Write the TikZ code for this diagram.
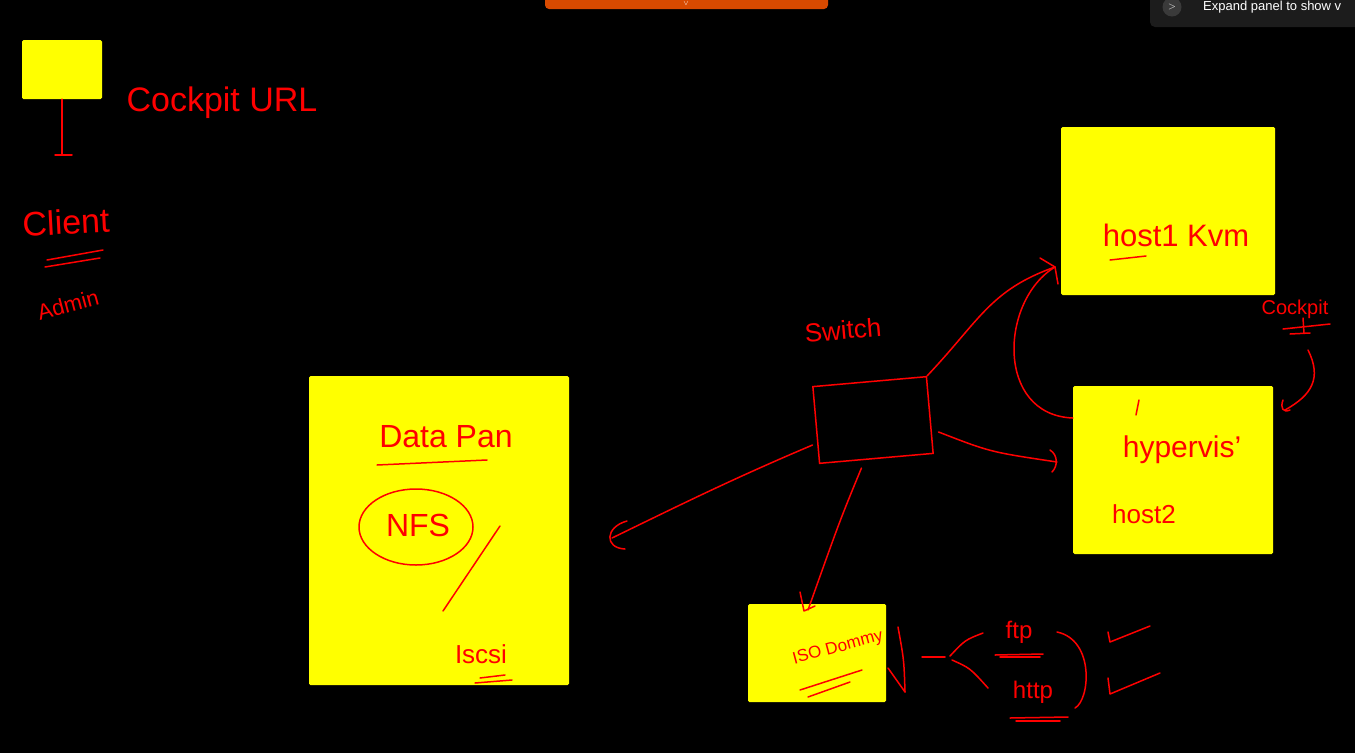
\documentclass[tikz,border=0pt]{standalone}
\usepackage{fontspec}
\setmainfont{Liberation Sans}
\usetikzlibrary{arrows.meta,calc,shapes.geometric}
\definecolor{ink}{HTML}{FF0000}
\definecolor{note}{HTML}{FFFF00}
\definecolor{topbar}{HTML}{D84A00}
\definecolor{panel}{HTML}{1C1C1C}
\definecolor{btn}{HTML}{3A3A3A}
\tikzset{
  ybox/.style={fill=note, draw=none, rounded corners=1.5pt, inner sep=0pt},
  pen/.style={draw=ink, line width=1.5pt, line cap=round, line join=round},
  hand/.style={text=ink, inner sep=0pt, font=\fontsize{#1}{#1}\selectfont},
  hand/.default=26,
}
\begin{document}
\begin{tikzpicture}[x=1pt,y=-1pt]
\useasboundingbox (0,0) rectangle (1355,753);
\fill[black] (0,0) rectangle (1355,753);
% top UI
\fill[topbar, rounded corners=4pt] (545,-10) rectangle (828,9);
\node[text=white, font=\fontsize{7}{7}\selectfont, inner sep=0pt] (chev) at (686,4) {$\vee$};
\fill[panel, rounded corners=5pt] (1150,-10) rectangle (1365,27);
\node[circle, fill=btn, minimum size=19pt, inner sep=0pt, text=white, font=\fontsize{10}{10}\selectfont] (expbtn) at (1172,7) {$>$};
\begin{scope}
\clip (0,0) rectangle (1355,753);
\node[text=white, anchor=west, inner sep=0pt, font=\fontsize{13}{13}\selectfont] (exptxt) at (1203,7.5) {Expand panel to show v};
\end{scope}

% client box
\node[ybox, minimum width=80pt, minimum height=59pt] (clientbox) at (62,69.5) {};
\coordinate (stem) at (62,155);
\draw[pen] (clientbox.south) -- (stem);
\draw[pen] (55,155) -- (72,155);
\node[hand=34] (cockurl) at (222,103) {Cockpit URL};
\node[hand=34, rotate=3] (client) at (66,222) {Client};
\draw[pen] (47,260) -- (103,250);
\draw[pen] (45,267) -- (100,258);
\node[hand=22, rotate=15] (admin) at (68,305) {Admin};

% host1
\node[ybox, minimum width=214pt, minimum height=168pt] (host1) at (1168,211) {};
\node[hand=31] (h1txt) at (1176,235) {host1 Kvm};
\draw[pen] (1110,260) -- (1146,256);

% host2
\node[ybox, minimum width=200pt, minimum height=168pt] (host2) at (1173,470) {};
\draw[pen] (1139,400) -- (1136,415);
\node[hand=30] (hyp) at (1182,450) {hypervis'};
\node[hand=26] (h2txt) at (1144,514) {host2};

% cockpit label
\node[hand=20] (cockpit) at (1295,309) {Cockpit};
\draw[pen] (1283,329) -- (1330,324);
\draw[pen] (1290,334) -- (1310,333);
\draw[pen] (1303,318) -- (1304,333);
\coordinate (ckend) at (1285,410);
\draw[pen] (1308,350) .. controls (1322,378) and (1312,395) .. (ckend);
\draw[pen] (1283,400) .. controls (1280,408) and (1283,413) .. (1290,410);

% switch
\node[draw=ink, line width=1.5pt, minimum width=114pt, minimum height=77pt, rotate=5] (switch) at (873,420) {};
\node[hand=26, rotate=5] (swtxt) at (843,330) {Switch};

% data pool
\node[ybox, minimum width=260pt, minimum height=309pt] (pool) at (439,530.5) {};
\node[hand=32] (pooltxt) at (446,437) {Data Pan};
\draw[pen] (377,465) -- (487,460);
\node[draw=ink, line width=1.5pt, ellipse, minimum width=114pt, minimum height=76pt, inner sep=0pt] (nfsring) at (416,527) {};
\node[hand=32] (nfs) at (418,525) {NFS};
\draw[pen] (500,526) -- (443,611);
\node[hand=26] (iscsi) at (481,654) {Iscsi};
\draw[pen] (475,683) -- (512,680);
\draw[pen] (480,678) -- (505,675);

% iso box
\node[ybox, minimum width=138pt, minimum height=98pt] (iso) at (817,653) {};
\node[hand=17, rotate=15] (isotxt) at (838,648) {ISO Dommy};
\draw[pen] (800,690) -- (862,670);
\draw[pen] (808,697) -- (850,682);
\draw[pen] (898,627) .. controls (904,660) .. (905,692);
\draw[pen] (888,668) -- (905,692);
\draw[pen] (922,657) -- (945,657);
\draw[pen] (983,633) .. controls (965,640) .. (950,656);
\draw[pen] (952,660) .. controls (970,668) .. (988,688);
\node[hand=24] (ftp) at (1019,632) {ftp};
\draw[pen] (995,655) -- (1043,654);
\draw[pen] (1000,657) -- (1040,657);
\node[hand=24] (http) at (1033,692) {http};
\draw[pen] (1010,718) -- (1068,717);
\draw[pen] (1016,721) -- (1060,721);
\draw[pen] (1057,632) .. controls (1095,640) and (1090,700) .. (1075,708);
\draw[pen] (1108,632) -- (1110,642) -- (1150,626);
\draw[pen] (1108,678) -- (1110,694) -- (1160,673);

% connectors
\coordinate (h1in) at (1055,267);
\draw[pen] (switch.north east) .. controls (980,320) and (990,290) .. (h1in);
\draw[pen] (1040,258) -- (h1in) -- (1058,284);
\draw[pen] (h1in) .. controls (1000,300) and (995,415) .. (host2.west |- 0,418);
\coordinate (h2in) at (1057,462);
\draw[pen] ($(switch.east)+(8,17)$) .. controls (990,452) .. (h2in);
\draw[pen] (1050,450) .. controls (1058,455) and (1058,466) .. (1052,472);
\coordinate (poolin) at (612,538);
\draw[pen] ($(switch.west)+(-3,20)$) .. controls (730,480) and (680,505) .. (poolin);
\draw[pen] (627,521) .. controls (605,527) and (604,548) .. (625,549);
\coordinate (isoin) at (808,610);
\draw[pen] ($(switch.south)+(-15,9)$) .. controls (840,520) .. (isoin);
\draw[pen] (800,592) -- (804,611) -- (815,606);
\end{tikzpicture}
\end{document}
